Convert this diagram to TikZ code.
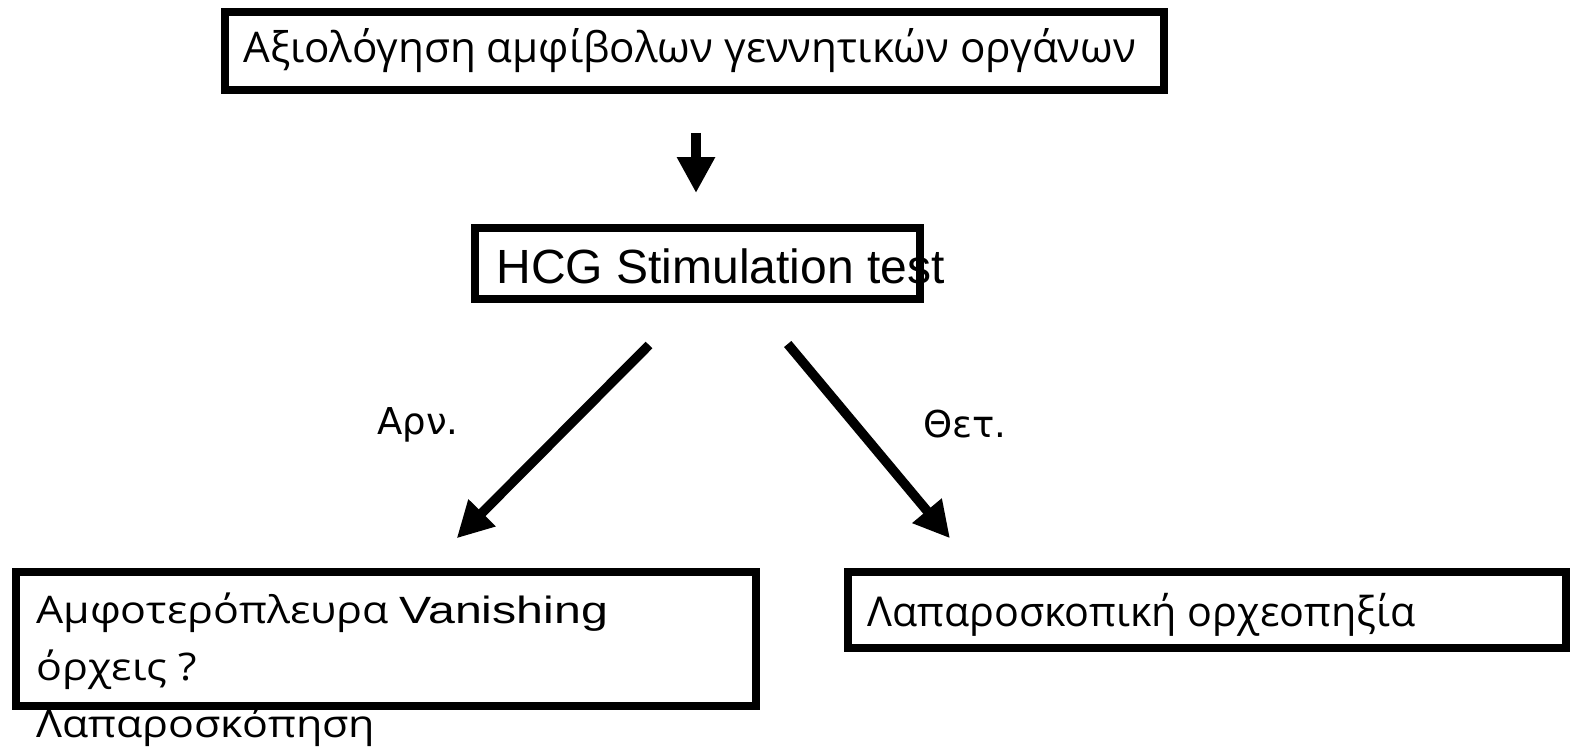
\documentclass[tikz,border=0pt]{standalone}
\usepackage{fontspec}
\setmainfont{Liberation Sans}
\newfontfamily\gr{Open Sans}
\newfontfamily\grw{Open Sans}[FakeStretch=1.13]
\newfontfamily\arw{Liberation Sans}[FakeStretch=1.27]
\newfontfamily\lbl{DejaVu Sans}
\usetikzlibrary{arrows.meta}

\begin{document}
\begin{tikzpicture}[x=0.5pt,y=-0.5pt,box/.style={draw,line width=4pt,inner sep=0pt},txt/.style={anchor=base west,inner sep=0pt},arr/.style={line width=4.75pt,-{Triangle[length=18pt,width=18pt]}}]
\useasboundingbox (0,0) rectangle (1573,749);
% boxes
\node[box,minimum width=469.5pt,minimum height=39pt] (eval) at (694.5,51){};
\node[box,minimum width=222.5pt,minimum height=35.5pt] (hcg) at (697.5,263){};
\node[box,minimum width=370pt,minimum height=67.25pt] (neg) at (386,638.75){};
\node[box,minimum width=359.25pt,minimum height=38.25pt] (pos) at (1206.75,609.75){};
% texts
\node[txt,font=\gr\fontsize{21.1}{25}\selectfont] (evalt) at (243,63){Αξιολόγηση αμφίβολων γεννητικών οργάνων};
\node[txt,font=\fontsize{24}{28}\selectfont] (hcgt) at (496,283){HCG Stimulation test};
\node[txt,align=left,font=\fontsize{19}{28.5}\selectfont] (negt) at (36,737){{\grw Αμφοτερόπλευρα} {\arw Vanishing}\\{\grw όρχεις ?}\\{\grw Λαπαροσκόπηση}};
\node[txt,font=\gr\fontsize{20.6}{24}\selectfont] (post) at (867,626){Λαπαροσκοπική ορχεοπηξία};
\node[txt,font=\lbl\fontsize{18.5}{22}\selectfont] (no) at (377,434){Αρν.};
\node[txt,font=\lbl\fontsize{18.5}{22}\selectfont] (yes) at (923,437){Θετ.};
% arrows
\coordinate (a1) at (696,133); \coordinate (a2) at (696,193);
\coordinate (l1) at (649,345); \coordinate (l2) at (456.7,538.3);
\coordinate (r1) at (787.7,344); \coordinate (r2) at (950,538.3);
\draw[arr] (a1) -- (a2);
\draw[arr] (l1) -- (l2);
\draw[arr] (r1) -- (r2);
\end{tikzpicture}
\end{document}
